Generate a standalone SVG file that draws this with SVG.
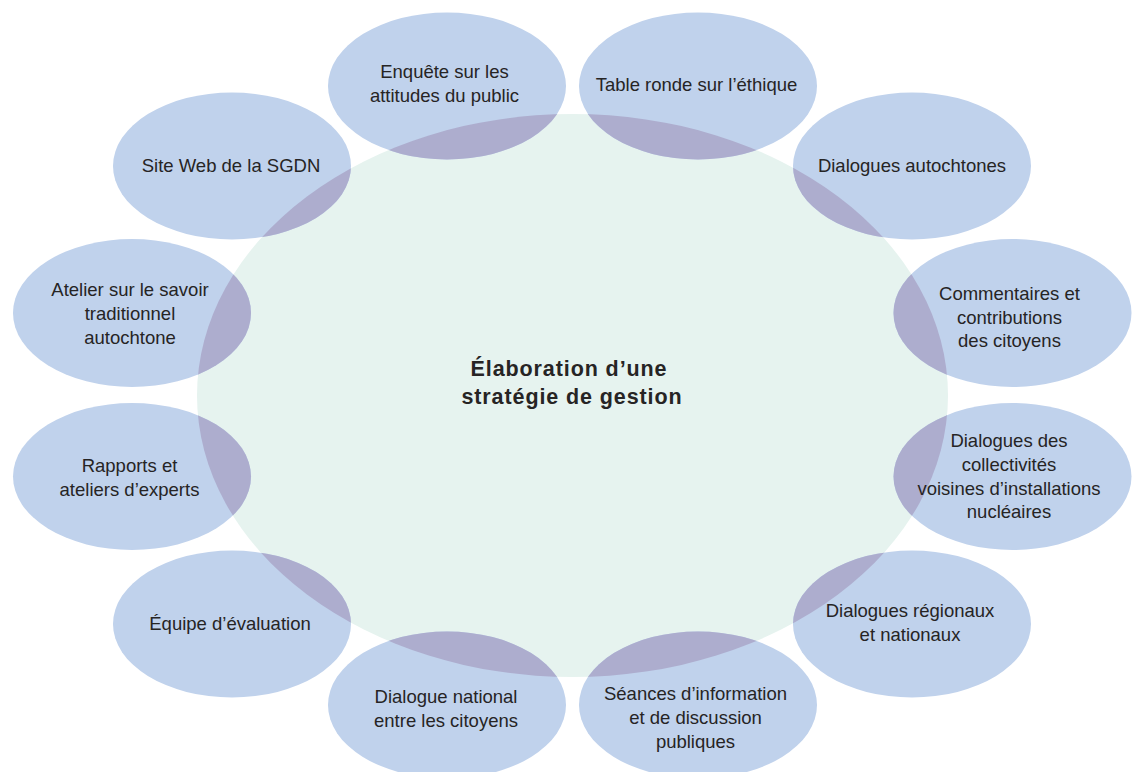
<svg xmlns="http://www.w3.org/2000/svg" width="1135" height="772" viewBox="0 0 1135 772">
<style>
.bg{fill:#ffffff}
.core{fill:#e6f3ef}
.node{fill:#c0d2ec}
.ov{fill:#adadce}
.t{font-family:"Liberation Sans",Arial,sans-serif;font-size:18.5px;fill:#262424;text-anchor:middle}
.title{font-family:"Liberation Sans",Arial,sans-serif;font-size:21.5px;font-weight:bold;letter-spacing:0.9px;fill:#262424;text-anchor:middle}
</style>
<defs>
<clipPath id="cc"><ellipse cx="572.5" cy="395.5" rx="375.5" ry="281.5"/></clipPath>
</defs>
<rect class="bg" x="0" y="0" width="1135" height="772"/>
<g id="center">
<ellipse class="core" cx="572.5" cy="395.5" rx="375.5" ry="281.5"/>
</g>
<g id="n-enquete">
<ellipse class="node" cx="447" cy="86" rx="119" ry="73.5"/>
<ellipse class="ov" cx="447" cy="86" rx="119" ry="73.5" clip-path="url(#cc)"/>
<text class="t" x="444.5" y="78">Enquête sur les</text>
<text class="t" x="444.5" y="102">attitudes du public</text>
</g>
<g id="n-table">
<ellipse class="node" cx="698" cy="86" rx="119" ry="73.5"/>
<ellipse class="ov" cx="698" cy="86" rx="119" ry="73.5" clip-path="url(#cc)"/>
<text class="t" x="696.5" y="91">Table ronde sur l’éthique</text>
</g>
<g id="n-autochtones">
<ellipse class="node" cx="912" cy="166" rx="119" ry="73.5"/>
<ellipse class="ov" cx="912" cy="166" rx="119" ry="73.5" clip-path="url(#cc)"/>
<text class="t" x="912" y="172">Dialogues autochtones</text>
</g>
<g id="n-commentaires">
<ellipse class="node" cx="1012.5" cy="313" rx="119" ry="74"/>
<ellipse class="ov" cx="1012.5" cy="313" rx="119" ry="74" clip-path="url(#cc)"/>
<text class="t" x="1009.5" y="300">Commentaires et</text>
<text class="t" x="1009.5" y="323.5">contributions</text>
<text class="t" x="1009.5" y="347">des citoyens</text>
</g>
<g id="n-collectivites">
<ellipse class="node" cx="1012.5" cy="476.5" rx="119" ry="73.5"/>
<ellipse class="ov" cx="1012.5" cy="476.5" rx="119" ry="73.5" clip-path="url(#cc)"/>
<text class="t" x="1009" y="447">Dialogues des</text>
<text class="t" x="1009" y="471">collectivités</text>
<text class="t" x="1009" y="495">voisines d’installations</text>
<text class="t" x="1009" y="518">nucléaires</text>
</g>
<g id="n-regionaux">
<ellipse class="node" cx="912" cy="624" rx="119" ry="73.5"/>
<ellipse class="ov" cx="912" cy="624" rx="119" ry="73.5" clip-path="url(#cc)"/>
<text class="t" x="910" y="617">Dialogues régionaux</text>
<text class="t" x="910" y="641">et nationaux</text>
</g>
<g id="n-seances">
<ellipse class="node" cx="698" cy="705" rx="119" ry="73.5"/>
<ellipse class="ov" cx="698" cy="705" rx="119" ry="73.5" clip-path="url(#cc)"/>
<text class="t" x="695.5" y="700">Séances d’information</text>
<text class="t" x="695.5" y="724">et de discussion</text>
<text class="t" x="695.5" y="748">publiques</text>
</g>
<g id="n-national">
<ellipse class="node" cx="447" cy="705" rx="119" ry="73.5"/>
<ellipse class="ov" cx="447" cy="705" rx="119" ry="73.5" clip-path="url(#cc)"/>
<text class="t" x="446" y="703">Dialogue national</text>
<text class="t" x="446" y="727">entre les citoyens</text>
</g>
<g id="n-equipe">
<ellipse class="node" cx="232" cy="624" rx="119" ry="73.5"/>
<ellipse class="ov" cx="232" cy="624" rx="119" ry="73.5" clip-path="url(#cc)"/>
<text class="t" x="230" y="630">Équipe d’évaluation</text>
</g>
<g id="n-rapports">
<ellipse class="node" cx="132" cy="476.5" rx="119" ry="73.5"/>
<ellipse class="ov" cx="132" cy="476.5" rx="119" ry="73.5" clip-path="url(#cc)"/>
<text class="t" x="129.5" y="472">Rapports et</text>
<text class="t" x="129.5" y="496">ateliers d’experts</text>
</g>
<g id="n-atelier">
<ellipse class="node" cx="132" cy="313" rx="119" ry="74"/>
<ellipse class="ov" cx="132" cy="313" rx="119" ry="74" clip-path="url(#cc)"/>
<text class="t" x="130" y="296">Atelier sur le savoir</text>
<text class="t" x="130" y="320">traditionnel</text>
<text class="t" x="130" y="344">autochtone</text>
</g>
<g id="n-siteweb">
<ellipse class="node" cx="232" cy="166" rx="119" ry="73.5"/>
<ellipse class="ov" cx="232" cy="166" rx="119" ry="73.5" clip-path="url(#cc)"/>
<text class="t" x="231" y="172">Site Web de la SGDN</text>
</g>
<g id="title">
<text class="title" x="569" y="376">Élaboration d’une</text>
<text class="title" x="572" y="404">stratégie de gestion</text>
</g>
</svg>
